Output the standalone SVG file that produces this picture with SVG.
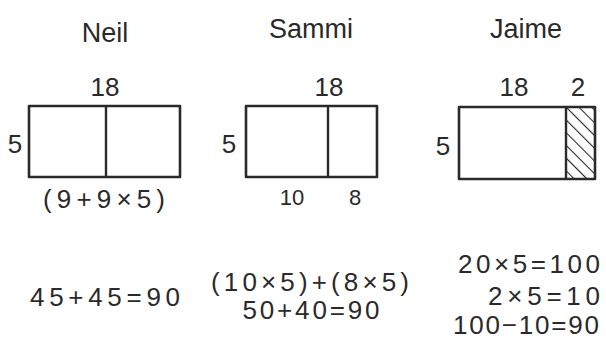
<svg xmlns="http://www.w3.org/2000/svg" width="606" height="340" viewBox="0 0 606 340">
<defs>
<style>
text{font-family:"Liberation Sans","DejaVu Sans",sans-serif;fill:#2a2a2a;text-anchor:middle}
.t{font-size:27px}
.n{font-size:26px}
.s{font-size:22px}
.e{font-size:26px}
.box{fill:none;stroke:#2a2a2a;stroke-width:2.6;stroke-linejoin:round}
.ln{stroke:#2a2a2a;stroke-width:2.4;fill:none}
</style>
<pattern id="hatch" patternUnits="userSpaceOnUse" width="9" height="9" patternTransform="rotate(-45)">
<line x1="0" y1="0" x2="0" y2="9" stroke="#2a2a2a" stroke-width="2.2"/>
</pattern>
</defs>
<rect width="606" height="340" fill="#ffffff"/>
<g id="neil">
<text class="t" x="105" y="42">Neil</text>
<text class="n" x="105" y="96">18</text>
<text class="n" x="15" y="153">5</text>
<rect class="box" x="29" y="106" width="151" height="71"/>
<line class="ln" x1="106" y1="106" x2="106" y2="177"/>
<text class="n" x="104" y="208" textLength="122" lengthAdjust="spacing">(9+9×5)</text>
</g>
<g id="sammi">
<text class="t" x="311" y="38">Sammi</text>
<text class="n" x="329" y="96">18</text>
<text class="n" x="229" y="153">5</text>
<rect class="box" x="246" y="106" width="131" height="71"/>
<line class="ln" x1="328" y1="106" x2="328" y2="177"/>
<text class="s" x="292" y="205">10</text>
<text class="s" x="355" y="205">8</text>
</g>
<g id="jaime">
<text class="t" x="526" y="38">Jaime</text>
<text class="n" x="514" y="96">18</text>
<text class="n" x="578" y="96">2</text>
<text class="n" x="443" y="155">5</text>
<rect x="566" y="107" width="29" height="72" fill="url(#hatch)"/>
<rect class="box" x="459" y="107" width="136" height="72"/>
<line class="ln" x1="566" y1="107" x2="566" y2="179"/>
</g>
<g id="equations">
<text class="e" x="105" y="306" textLength="150" lengthAdjust="spacing">45+45=90</text>
<text class="e" x="310" y="291" textLength="198" lengthAdjust="spacing">(10×5)+(8×5)</text>
<text class="e" x="311" y="319" textLength="137" lengthAdjust="spacing">50+40=90</text>
<text class="e" x="529" y="273" textLength="142" lengthAdjust="spacing">20×5=100</text>
<text class="e" x="544" y="305" textLength="112" lengthAdjust="spacing">2×5=10</text>
<text class="e" x="526" y="334" textLength="146" lengthAdjust="spacing">100−10=90</text>
</g>
<g id="connectors"/>
</svg>
